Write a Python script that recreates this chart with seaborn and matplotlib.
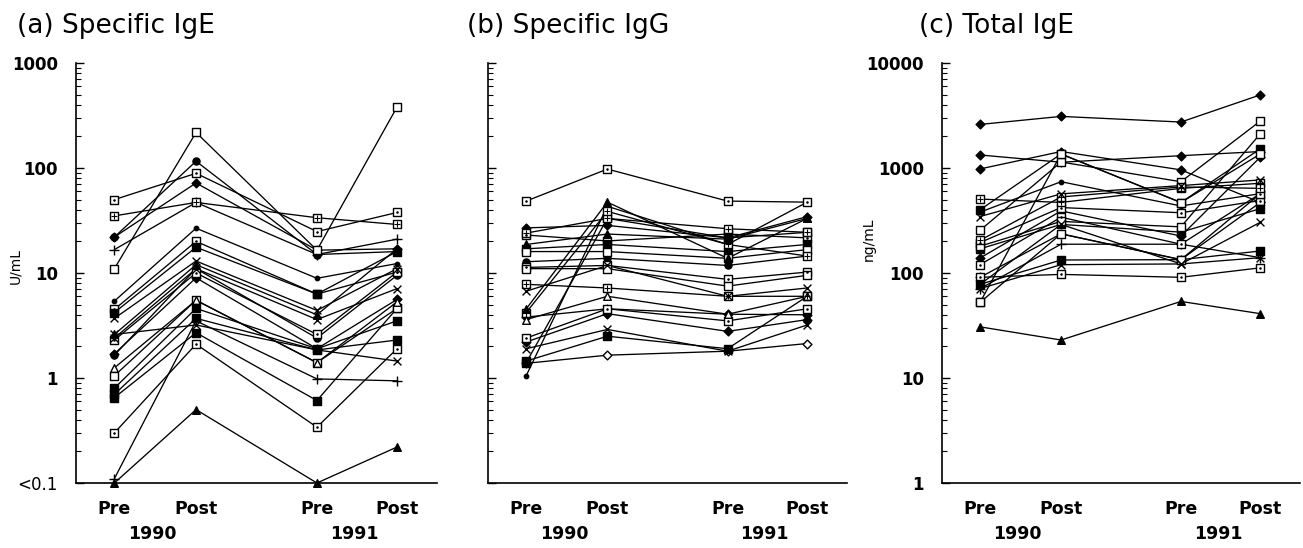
import numpy as np
import pandas as pd
import matplotlib
matplotlib.use("Agg")
import matplotlib.pyplot as plt
import seaborn as sns
from matplotlib.ticker import LogLocator, FixedLocator, FixedFormatter, NullFormatter

# ---------------- data ----------------
time_labels = ["Pre", "Post", "Pre", "Post"]
year_labels = ["1990", "1991"]
xpos = [0.0, 1.0, 2.48, 3.46]

# (a) Specific IgE, U/mL  (0.1 = "<0.1")
ige_markers = ["sq_open", "sq_dot", "sq_plus", "circ", "diam", "plus", "dot", "sq_dot",
               "sq_fill", "x", "tri", "x", "sq_dot", "diam", "circ", "tri_open",
               "sq_open", "sq_fill", "sq_fill", "sq_fill", "plus", "sq_dot", "tri", "x"]
ige_pre90 = [11, 50, 35, 22, 22, 16.7, 5.4, 4.5, 4.2, 3.7, 2.6, 2.4, 2.3, 1.7, 1.65, 1.25,
             1.05, 0.8, 0.7, 0.65, 0.11, 0.30, 0.1, 2.6]
ige_post90 = [218, 89, 47, 116, 72, 47, 26.7, 20, 17.6, 13, 12, 11, 10, 9, 11, 5.5,
              5.5, 4.6, 3.7, 2.7, 3.5, 2.1, 0.5, 3.2]
ige_pre91 = [16.5, 24.8, 33.6, 15, 16.5, 15, 8.9, 6.3, 6.3, 4.4, 4.0, 3.6, 2.6, 1.9, 2.4, 1.4,
             1.4, 1.9, 1.85, 0.61, 0.98, 0.34, 0.1, 1.85]
ige_post91 = [380, 37.7, 29, 16, 17, 21, 12.3, 10.2, 16, 11, 17, 7.1, 10.2, 5.6, 9.5, 5.3,
              4.6, 3.5, 2.3, 4.6, 0.94, 1.9, 0.22, 1.45]

# (b) Specific IgG, unlabelled log scale (1 .. 10000)
igg_markers = ["sq_dot", "diam", "sq_plus", "sq_dot", "tri", "sq_fill", "sq_open", "circ",
               "sq_dot", "sq_open", "sq_plus", "x", "tri", "sq_plus", "diam", "tri_open",
               "sq_dot", "diam", "x", "sq_fill", "diam_open", "dot", "sq_fill"]
igg_pre90 = [484, 269, 240, 230, 187, 170, 160, 128, 113, 110, 78, 67, 45.5, 42, 38, 36,
             24, 22, 19, 14.5, 13.8, 10.5, 14]
igg_post90 = [977, 284, 331, 202, 235, 187, 160, 138, 118, 110, 72, 118, 473, 386, 45.6, 60,
              45.6, 41, 29, 25, 16.5, 432, 331]
igg_pre91 = [484, 216, 264, 235, 210, 160, 138, 118, 87, 75, 60, 60, 138, 187, 40.5, 40.5,
             35, 27.8, 18, 19, 18, 187, 216]
igg_post91 = [473, 344, 244, 216, 331, 187, 167, 145, 102, 95, 60, 72, 331, 145, 40, 60,
              45.6, 36, 32, 60, 21.3, 473, 244]

# (c) Total IgE, ng/mL
tige_markers = ["diam", "diam", "diam", "sq_plus", "sq_fill", "dot", "x", "sq_open",
                "sq_plus", "sq_dot", "sq_open", "sq_fill", "diam", "sq_dot", "diam_open",
                "x", "plus", "sq_fill", "x", "sq_dot", "tri", "sq_open", "sq_open"]
tige_pre90 = [2600, 1330, 980, 506, 400, 380, 345, 255, 205, 195, 180, 170, 139, 120, 91,
              78, 71, 78, 71, 91, 30.7, 52.5, 52.5]
tige_post90 = [3100, 1135, 1435, 470, 1360, 740, 567, 1140, 530, 420, 310, 290, 390, 340, 236,
               290, 188, 133, 120, 97, 23, 1360, 236]
tige_pre91 = [2740, 1310, 960, 640, 469, 435, 680, 740, 660, 375, 275, 245, 225, 188, 134,
              122, 188, 134, 122, 91, 53.6, 469, 134]
tige_post91 = [4970, 1435, 470, 715, 1525, 570, 770, 2800, 640, 490, 2120, 410, 1270, 570, 470,
               304, 140, 162, 140, 112, 41, 1360, 570]

panels = [
    dict(title="(a) Specific IgE", ylabel="U/mL", markers=ige_markers,
         vals=[ige_pre90, ige_post90, ige_pre91, ige_post91],
         ylim=(0.1, 1000), ticks=[0.1, 1, 10, 100, 1000],
         labels=["<0.1", "1", "10", "100", "1000"]),
    dict(title="(b) Specific IgG", ylabel=None, markers=igg_markers,
         vals=[igg_pre90, igg_post90, igg_pre91, igg_post91],
         ylim=(1, 10000), ticks=[1, 10, 100, 1000, 10000], labels=None),
    dict(title="(c) Total IgE", ylabel="ng/mL", markers=tige_markers,
         vals=[tige_pre90, tige_post90, tige_pre91, tige_post91],
         ylim=(1, 10000), ticks=[1, 10, 100, 1000, 10000],
         labels=["1", "10", "100", "1000", "10000"]),
]

STYLES = {
    "sq_open": dict(marker="s", s=40, fc="white", inner=None),
    "sq_dot": dict(marker="s", s=30, fc="white", inner=(".", 4)),
    "sq_plus": dict(marker="s", s=30, fc="white", inner=("+", 18)),
    "sq_fill": dict(marker="s", s=26, fc="black", inner=None),
    "diam": dict(marker="D", s=20, fc="black", inner=None),
    "diam_open": dict(marker="D", s=20, fc="white", inner=None),
    "tri": dict(marker="^", s=30, fc="black", inner=None),
    "tri_open": dict(marker="^", s=30, fc="white", inner=None),
    "x": dict(marker="x", s=32, fc=None, inner=None),
    "plus": dict(marker="+", s=46, fc=None, inner=None),
    "dot": dict(marker="o", s=10, fc="black", inner=None),
    "circ": dict(marker="o", s=26, fc="black", inner=None),
}

# ---------------- figure ----------------
sns.set_style("ticks")
plt.rcParams["font.family"] = ["DejaVu Sans"]
plt.rcParams.update({
    "text.color": "black", "axes.labelcolor": "black", "axes.edgecolor": "black",
    "xtick.color": "black", "ytick.color": "black",
})

fig = plt.figure(figsize=(13.03, 5.48), dpi=100)
W, H = 1303, 548
ax_px = [(76, 437), (488, 847), (942, 1300)]
title_px = [17, 467, 919]
top, bottom = 63, 483
ylabel_x = [-0.150, None, -0.184]
ylabel_y = [0.517, None, 0.58]

for i, p in enumerate(panels):
    l, r = ax_px[i]
    ax = fig.add_axes([l / W, (H - bottom) / H, (r - l) / W, (bottom - top) / H])
    rows = []
    for sid, m in enumerate(p["markers"]):
        for k in range(4):
            rows.append(dict(subject=sid, x=xpos[k], value=p["vals"][k][sid], style=m))
    df = pd.DataFrame(rows)

    sns.lineplot(data=df, x="x", y="value", units="subject", estimator=None,
                 color="black", lw=0.95, legend=False, ax=ax, clip_on=False, zorder=2)
    for m, sub in df.groupby("style"):
        st = STYLES[m]
        if st["fc"] is None:
            sns.scatterplot(data=sub, x="x", y="value", marker=st["marker"], s=st["s"],
                            color="black", linewidth=1.0, ax=ax, legend=False,
                            clip_on=False, zorder=3)
        else:
            sns.scatterplot(data=sub, x="x", y="value", marker=st["marker"], s=st["s"],
                            color=st["fc"], edgecolor="black", linewidth=1.0, ax=ax,
                            legend=False, clip_on=False, zorder=3)
        if st["inner"] is not None:
            im, isz = st["inner"]
            sns.scatterplot(data=sub, x="x", y="value", marker=im, s=isz,
                            color="black", linewidth=0.8, edgecolor="black", ax=ax,
                            legend=False, clip_on=False, zorder=4)

    ax.set_yscale("log")
    ax.set_ylim(*p["ylim"])
    ax.set_xlim(-0.47, 3.95)
    ax.yaxis.set_major_locator(FixedLocator(p["ticks"]))
    ax.yaxis.set_minor_locator(LogLocator(base=10, subs=np.arange(2, 10)))
    ax.yaxis.set_minor_formatter(NullFormatter())
    if p["labels"] is None:
        ax.yaxis.set_major_formatter(NullFormatter())
    else:
        ax.yaxis.set_major_formatter(FixedFormatter(p["labels"]))
    ax.set_xticks(xpos)
    ax.set_xticklabels(time_labels, fontsize=12.5, fontweight="bold")
    ax.tick_params(axis="x", length=0, pad=12.5)
    ax.tick_params(axis="y", which="major", direction="in", length=6, width=1.0,
                   pad=13, labelsize=12)
    ax.tick_params(axis="y", which="minor", direction="in", length=3.5, width=0.8)
    for t in ax.get_yticklabels():
        if t.get_text() != "<0.1":
            t.set_fontweight("bold")
    for sp in ["top", "right"]:
        ax.spines[sp].set_visible(False)
    for sp in ["left", "bottom"]:
        ax.spines[sp].set_linewidth(1.2)
    ax.set_xlabel("")
    if p["ylabel"]:
        ax.set_ylabel(p["ylabel"], fontsize=10)
        ax.yaxis.set_label_coords(ylabel_x[i], ylabel_y[i])
    else:
        ax.set_ylabel("")
    for j, yr in enumerate(year_labels):
        mid = (xpos[2 * j] + xpos[2 * j + 1]) / 2
        ax.annotate(yr, xy=(mid, 0), xycoords=("data", "axes fraction"),
                    xytext=(-2, -37), textcoords="offset points", ha="center",
                    va="center", fontsize=12.5, fontweight="bold")
    fig.text(title_px[i] / W, 1 - 33 / H, p["title"], fontsize=19, va="baseline",
             ha="left")

fig.savefig("out.png", dpi=100)
